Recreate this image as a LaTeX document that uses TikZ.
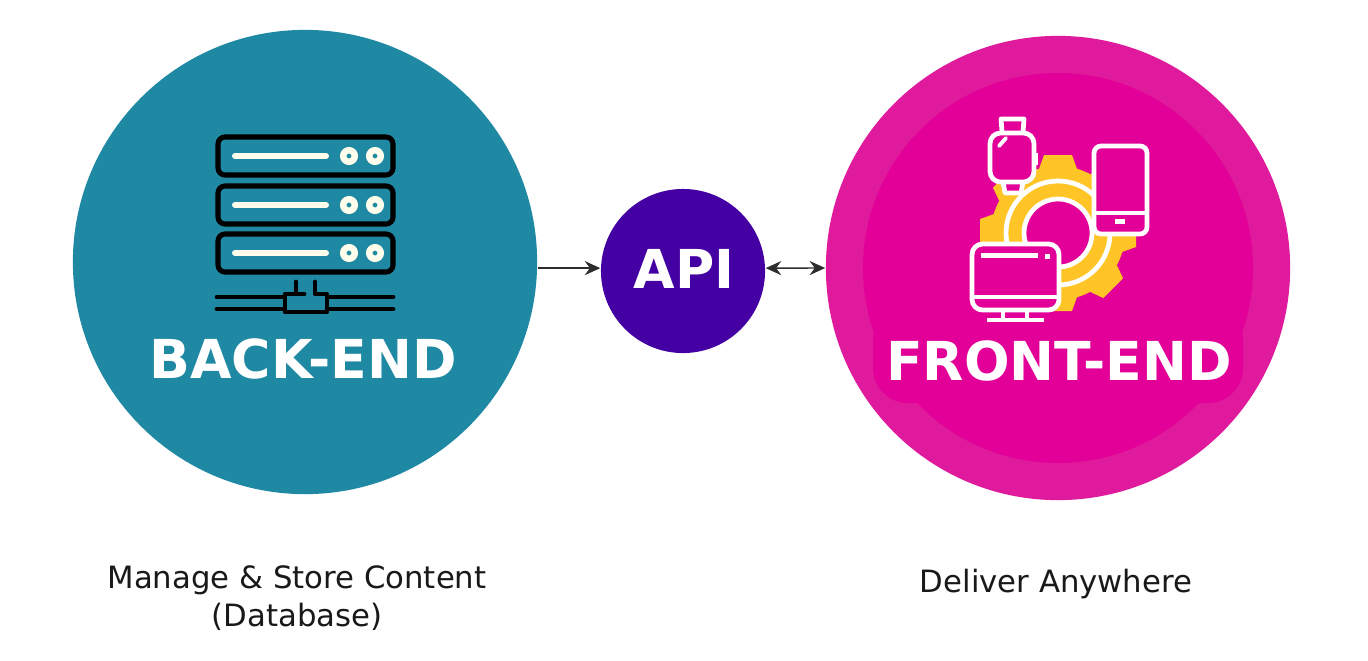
\documentclass[tikz,border=0pt]{standalone}
\usepackage{fontspec}
\setmainfont{DejaVu Sans}
\usetikzlibrary{arrows.meta}
\definecolor{backteal}{RGB}{31,136,163}
\definecolor{apipurple}{RGB}{68,0,163}
\definecolor{frontpink}{RGB}{224,26,156}
\definecolor{frontcore}{RGB}{226,0,152}
\definecolor{gearyellow}{RGB}{255,196,37}
\definecolor{creamwhite}{RGB}{255,253,235}
\definecolor{linkgray}{RGB}{45,45,45}
\tikzset{
    hub/.style={circle, inner sep=0pt},
    bigtitle/.style={font=\bfseries\fontsize{15.25}{16}\selectfont, text=white, inner sep=0pt},
    caption/.style={font=\fontsize{8.74}{10.6}\selectfont, align=center, text=black!90, inner sep=0pt},
    link/.style={linkgray, line width=0.4pt},
    rack/.style={draw=black, line width=1.45pt, rounded corners=2pt},
    device/.style={draw=white, line width=1.35pt, fill=frontcore},
}

\begin{document}
\begin{tikzpicture}[x=0.01cm, y=-0.01cm]
    \useasboundingbox (0,0) rectangle (1368,660);

    % Main circles
    \node[hub, fill=backteal, minimum size=4.64cm] (backend) at (305,262) {};
    \node[hub, fill=apipurple, minimum size=1.64cm] (api) at (683,271) {};
    \node[hub, fill=frontpink, minimum size=4.64cm] (frontend) at (1058,268) {};
    \fill[frontcore] (1058,268) circle (195);
    \fill[frontcore, rounded corners=10pt] (873,305) rectangle (1243,403);

    % Server stack
    \foreach \y in {136,185,233} {
        \draw[rack] (218,\y+1) rectangle (393,\y+39);
        \draw[creamwhite, line width=1.7pt, line cap=round] (235,\y+20) -- (326,\y+20);
        \draw[creamwhite, line width=1.85pt] (349,\y+20) circle (5.75);
        \draw[creamwhite, line width=1.85pt] (375,\y+20) circle (5.75);
    }

    % Network under the stack
    \draw[black, line width=1.35pt, line cap=round] (217,297) -- (393,297);
    \draw[black, line width=1.35pt, line cap=round] (217,309) -- (393,309);
    \fill[backteal] (286,294) rectangle (326,312);
    \draw[black, line width=1.35pt, line cap=round, line join=round]
        (296,282) -- (296,294) -- (285,294) -- (285,312) -- (327,312) -- (327,294) -- (315,294) -- (315,282);
    \draw[black, line width=1.35pt, line cap=round] (296,294) -- (304,294);

    % Gear behind the devices
    \begin{scope}[shift={(1058,233)}]
        \fill[gearyellow] (0,0) circle (67);
        \foreach \a in {0,45,...,315} {
            \fill[gearyellow, rotate=\a] (-19,-64) -- (-14,-78) -- (14,-78) -- (19,-64) -- cycle;
        }
        \draw[white, line width=1.35pt] (0,0) circle (52);
        \draw[white, line width=1.35pt, fill=frontcore] (0,0) circle (34);
    \end{scope}

    % Watch
    \draw[device, line join=round] (1002,132) -- (1001,119) -- (1024,119) -- (1023,132);
    \draw[device, line join=round] (1003,182) -- (1005,193) -- (1021,193) -- (1023,182);
    \draw[white, line width=1.1pt] (1036,153) -- (1036,165);
    \draw[device, rounded corners=3pt] (990,133) rectangle (1034,182);
    \draw[white, line width=1.1pt, line cap=round] (999,146) -- (1006,138);

    % Tablet
    \draw[device, rounded corners=2pt] (1094,146) rectangle (1147,234);
    \draw[white, line width=1.35pt] (1094,213) -- (1147,213);
    \fill[white] (1115,219) rectangle (1125,224);

    % Monitor
    \draw[white, line width=1.35pt] (1003,310) -- (1003,320);
    \draw[white, line width=1.35pt] (1027,310) -- (1027,320);
    \draw[white, line width=1.35pt] (987,320) -- (1044,320);
    \draw[device, rounded corners=3pt] (972,244) rectangle (1059,310);
    \draw[white, line width=1.35pt] (972,297) -- (1059,297);
    \fill[white] (981,253) rectangle (1038,258);
    \fill[white] (1045,254) rectangle (1050,259);

    % Titles
    \node[bigtitle] (backtitle) at (303,359) {BACK-END};
    \node[bigtitle] (apititle) at (684,269) {API};
    \node[bigtitle] (fronttitle) at (1059,361) {FRONT-END};

    % Captions
    \node[caption] (backnote) at (297,598) {Manage \& Store Content\\(Database)};
    \node[caption] (frontnote) at (1056,584) {Deliver Anywhere};

    % Links
    \coordinate (backout) at (backend.east |- api.178);
    \draw[link, -{Stealth[length=4.4pt, width=4pt]}] (backout) -- (api.178);
    \draw[link, {Stealth[length=4.4pt, width=4pt]}-{Stealth[length=4.4pt, width=4pt]}] (api.2) -- (frontend.180);
\end{tikzpicture}
\end{document}
